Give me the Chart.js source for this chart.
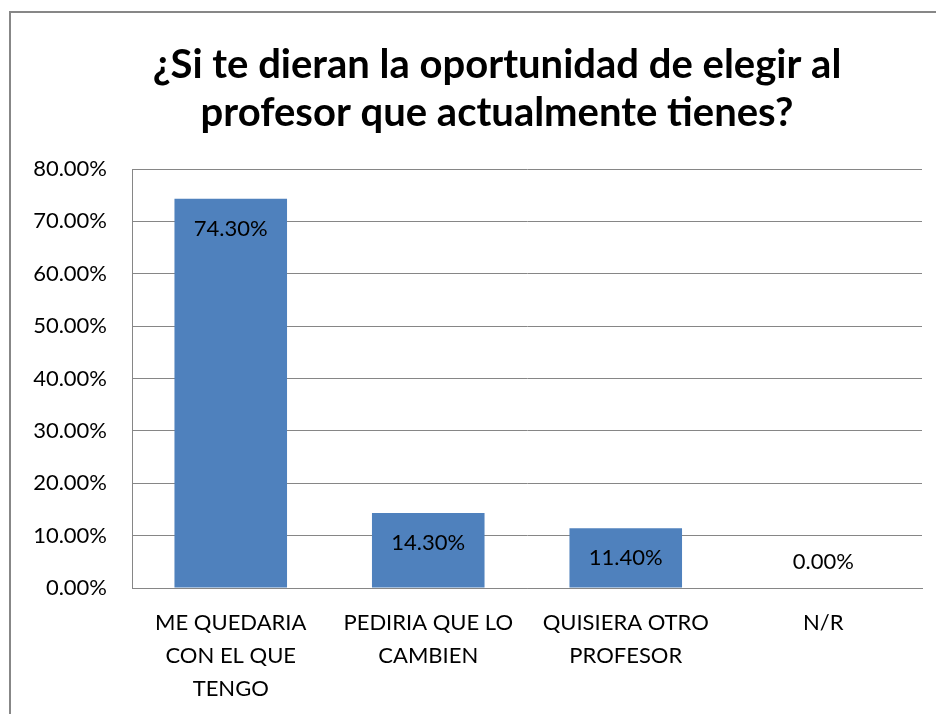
<!DOCTYPE html>
<html>
<head>
<meta charset="utf-8">
<script src="https://cdn.jsdelivr.net/npm/chart.js@4/dist/chart.umd.min.js"></script>
<style>
    html, body { margin: 0; padding: 0; background: #fff; overflow: hidden; width: 936px; height: 714px; }
    #frame {
        position: absolute; left: 9px; top: 11px;
        width: 980px; height: 740px;
        border-left: 2px solid #878787; border-top: 2px solid #878787;
    }
    #frame canvas { position: absolute; left: 0; top: 0; }
</style>
</head>
<body>
<div id="frame"><canvas id="chartProfesor" width="972" height="720"></canvas></div>
<script>
const titleLines = ["¿Si te dieran la oportunidad de elegir al", "profesor que actualmente tienes?"];
const categories = [
    ["ME QUEDARIA", "CON EL QUE", "TENGO"],
    ["PEDIRIA QUE LO", "CAMBIEN"],
    ["QUISIERA OTRO", "PROFESOR"],
    ["N/R"]
];
const percentages = [74.3, 14.3, 11.4, 0];
const yTicks = [0, 10, 20, 30, 40, 50, 60, 70, 80];

const FONT = "Lato";

// labels drawn at the inside top of each bar, like excel's "inside end"
const barLabels = {
    id: "barLabels",
    afterDatasetsDraw(chart) {
        const ctx = chart.ctx;
        const meta = chart.getDatasetMeta(0);
        ctx.save();
        ctx.font = "22px " + FONT;
        ctx.fillStyle = "#000";
        ctx.textAlign = "center";
        ctx.textBaseline = "middle";
        meta.data.forEach((bar, i) => {
            const y = Math.min(bar.y + 30, bar.base - 26);
            ctx.fillText(percentages[i].toFixed(2) + "%", bar.x, y);
        });
        ctx.restore();
    }
};

new Chart(document.getElementById("chartProfesor"), {
    type: "bar",
    data: {
        labels: categories,
        datasets: [{
            data: percentages,
            backgroundColor: "#4F81BD",
            borderWidth: 0,
            barPercentage: 0.57,
            categoryPercentage: 1
        }]
    },
    options: {
        responsive: false,
        animation: false,
        layout: {
            padding: { top: 0, right: 0, bottom: 10, left: 0 }
        },
        plugins: {
            legend: { display: false },
            tooltip: { enabled: false },
            title: {
                display: true,
                text: titleLines,
                color: "#000",
                font: { family: FONT, size: 40, weight: "bold", lineHeight: 1.2 },
                padding: { top: 28, bottom: 32 }
            }
        },
        scales: {
            x: {
                grid: { display: false, drawTicks: false },
                border: { color: "#868686", width: 1 },
                ticks: {
                    color: "#000",
                    padding: 18,
                    maxRotation: 0,
                    autoSkip: false,
                    font: { family: FONT, size: 22, lineHeight: 1.5 }
                }
            },
            y: {
                min: 0,
                max: 80,
                afterFit: (scale) => { scale.width = 121; },
                afterBuildTicks: (scale) => { scale.ticks = yTicks.map(v => ({ value: v })); },
                grid: { color: "#868686", lineWidth: 1, drawTicks: false },
                border: { color: "#868686", width: 1 },
                ticks: {
                    color: "#000",
                    padding: 25,
                    font: { family: FONT, size: 22 },
                    callback: (v) => v.toFixed(2) + "%"
                }
            },
            // empty right-hand axis, only keeps the plot clear of the right edge
            spacer: {
                position: "right",
                min: 0,
                max: 80,
                afterFit: (scale) => { scale.width = 61; },
                grid: { display: false, drawTicks: false },
                border: { display: false },
                ticks: { display: false }
            }
        }
    },
    plugins: [barLabels]
});
</script>
</body>
</html>
